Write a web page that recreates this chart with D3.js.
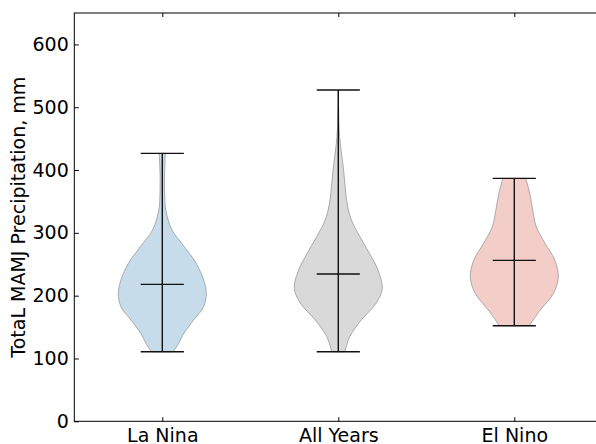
<!DOCTYPE html>
<html lang="en">
<head>
    <meta charset="utf-8">
    <title>MAMJ Precipitation violins</title>
    <script src="https://d3js.org/d3.v7.min.js"></script>
    <style>
        body { margin: 0; background: white; }
        svg text { font-family: "DejaVu Sans", sans-serif; fill: #000; }
    </style>
</head>
<body>
<div id="chart"></div>
<script>
    // categories and per-group stats (mm)
    const categories = ["La Nina", "All Years", "El Nino"];
    const mins = [110.8, 110.8, 152.2];
    const maxs = [426.6, 527.3, 386.7];
    const medians = [218, 234.4, 256.2];
    const fills = ["#c6dceb", "#d9d9d9", "#f3cdc7"];

    // kde outline: precipitation level and relative half width
    const laNinaLevels = [426.6, 390, 357.5, 336, 304.6, 278, 251.5, 225, 203.7, 182.4, 161, 140, 124, 110.8];
    const laNinaWidths = [0.07, 0.05, 0.055, 0.08, 0.22, 0.5, 0.77, 0.94, 1.0, 0.94, 0.71, 0.49, 0.37, 0.25];
    const allLevels = [527.3, 490, 453, 400, 347, 320, 294, 267, 241, 211.7, 188, 161, 134.6, 110.8];
    const allWidths = [0.0, 0.01, 0.03, 0.12, 0.2, 0.3, 0.49, 0.71, 0.9, 1.0, 0.86, 0.52, 0.26, 0.15];
    const elNinoLevels = [386.7, 363, 336, 309.7, 283, 256.7, 230, 203.7, 177, 152.2];
    const elNinoWidths = [0.26, 0.35, 0.42, 0.5, 0.7, 0.92, 1.0, 0.89, 0.59, 0.34];

    const yTicks = [0, 100, 200, 300, 400, 500, 600];

    const levels = [laNinaLevels, allLevels, elNinoLevels];
    const widths = [laNinaWidths, allWidths, elNinoWidths];

    const w = 596, h = 444;
    const mLeft = 74.3, mRight = 602.3, mTop = 13, mBottom = 421.3;
    const fontSize = "19px";

    const svg = d3.select("#chart").append("svg")
        .attr("width", w)
        .attr("height", h);

    const x = d3.scaleLinear().domain([0.5, 3.5]).range([mLeft, mRight]);
    const y = d3.scaleLinear().domain([0, 650]).range([mBottom, mTop]);
    const halfPx = (x(1.25) - x(1)); // violin width 0.5 -> half 0.25

    categories.forEach((c, i) => {
        const cx = x(i + 1);
        const pts = levels[i].map((v, k) => ({ v: v, f: widths[i][k] }));
        const area = d3.area()
            .y(d => y(d.v))
            .x0(d => cx - d.f * halfPx)
            .x1(d => cx + d.f * halfPx)
            .curve(d3.curveCatmullRom.alpha(0.5));
        svg.append("path")
            .datum(pts)
            .attr("d", area)
            .attr("fill", fills[i])
            .attr("stroke", "#9a9a9a")
            .attr("stroke-opacity", 0.8)
            .attr("stroke-width", 1);

        const capHalf = halfPx * 0.49;
        const g = svg.append("g").attr("stroke", "#111").attr("stroke-width", 1.4);
        g.append("line").attr("x1", cx).attr("x2", cx).attr("y1", y(mins[i])).attr("y2", y(maxs[i]));
        [mins[i], maxs[i], medians[i]].forEach(v => {
            g.append("line")
                .attr("x1", cx - capHalf).attr("x2", cx + capHalf)
                .attr("y1", y(v)).attr("y2", y(v));
        });
    });

    // frame
    svg.append("rect")
        .attr("x", mLeft).attr("y", mTop)
        .attr("width", mRight - mLeft).attr("height", mBottom - mTop)
        .attr("fill", "none").attr("stroke", "#000").attr("stroke-width", 1);

    // y axis, inward ticks
    const yAxis = d3.axisLeft(y).tickValues(yTicks).tickSizeInner(-4.5).tickSizeOuter(0).tickPadding(5.5);
    const gy = svg.append("g").attr("transform", `translate(${mLeft},0)`).call(yAxis);
    gy.select(".domain").remove();
    gy.selectAll("text").style("font-size", fontSize);
    gy.selectAll("line").attr("stroke", "#000");

    // x axis, inward ticks top and bottom
    const xAxis = d3.axisBottom(x).tickValues([1, 2, 3]).tickFormat((d, i) => categories[i])
        .tickSizeInner(-4).tickSizeOuter(0).tickPadding(7);
    const gx = svg.append("g").attr("transform", `translate(0,${mBottom})`).call(xAxis);
    gx.select(".domain").remove();
    gx.selectAll("text").style("font-size", fontSize);
    gx.selectAll("line").attr("stroke", "#000");

    const gxTop = svg.append("g").attr("transform", `translate(0,${mTop})`)
        .call(d3.axisTop(x).tickValues([1, 2, 3]).tickFormat("").tickSizeInner(-4).tickSizeOuter(0));
    gxTop.select(".domain").remove();
    gxTop.selectAll("line").attr("stroke", "#000");

    svg.append("text")
        .attr("transform", `translate(25,${(mTop + mBottom) / 2}) rotate(-90)`)
        .attr("text-anchor", "middle")
        .style("font-size", fontSize)
        .text("TotaL MAMJ Precipitation, mm");
</script>
</body>
</html>
